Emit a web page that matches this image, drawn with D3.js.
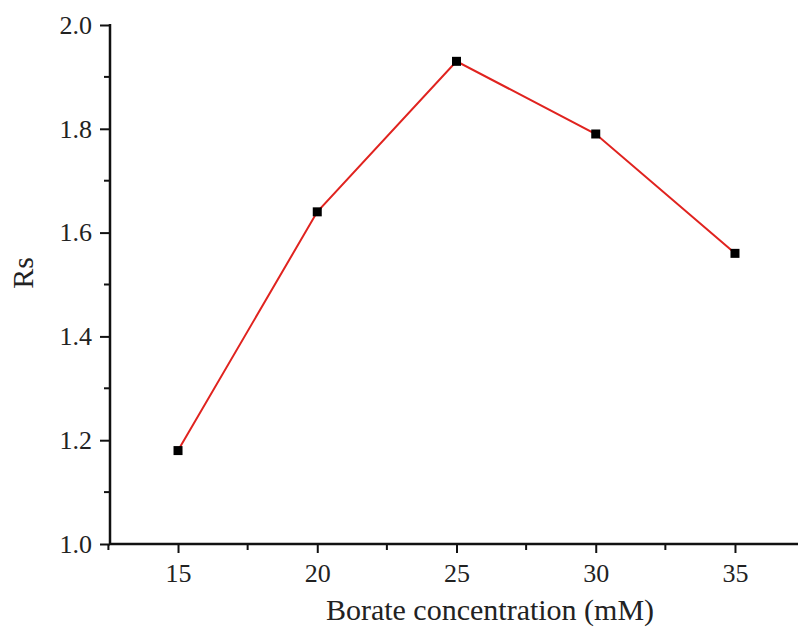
<!DOCTYPE html>
<html>
<head>
<meta charset="utf-8">
<script src="https://cdn.jsdelivr.net/npm/d3@7"></script>
<style>
  html, body { margin: 0; padding: 0; background: #fff; }
  svg { display: block; }
  text { font-family: "Liberation Serif", "Times New Roman", serif; fill: #222; }
</style>
</head>
<body>
<svg id="chart" width="798" height="627"></svg>
<script>
// Borate concentration (mM) vs. resolution Rs
const concentrations = [15, 20, 25, 30, 35];
const rsValues = [1.18, 1.64, 1.93, 1.79, 1.56];
const xTickValues = [15, 20, 25, 30, 35];
const yTickValues = [1.0, 1.2, 1.4, 1.6, 1.8, 2.0];

const svg = d3.select("#chart");
const plotLeft = 110, plotTop = 25, plotBottom = 544;

const x = d3.scaleLinear().domain([12.5, 37.5]).range([108.4, 804.6]);
const y = d3.scaleLinear().domain([1.0, 2.0]).range([plotBottom, plotTop]);

// minor ticks
const xMinor = d3.range(12.5, 37.6, 2.5).filter(v => !xTickValues.includes(v));
const yMinor = d3.range(1.1, 2.0, 0.2);

const axisColor = "#111";

// x axis
const gx = svg.append("g").attr("transform", `translate(0,${plotBottom})`);
gx.call(d3.axisBottom(x).tickValues(xTickValues).tickSize(9).tickFormat(d3.format("d")))
  .call(g => g.select(".domain").remove());
gx.selectAll(".tick line").attr("stroke", axisColor).attr("stroke-width", 2);
gx.selectAll(".tick text").attr("font-size", 26).attr("y", 38).attr("dy", 0);
gx.selectAll(".minor").data(xMinor).enter().append("line")
  .attr("x1", d => x(d)).attr("x2", d => x(d)).attr("y1", 0).attr("y2", 6)
  .attr("stroke", axisColor).attr("stroke-width", 2);
gx.append("line").attr("x1", plotLeft - 1).attr("x2", 798).attr("y1", 0).attr("y2", 0)
  .attr("stroke", axisColor).attr("stroke-width", 2.5);

// y axis
const gy = svg.append("g").attr("transform", `translate(${plotLeft},0)`);
gy.call(d3.axisLeft(y).tickValues(yTickValues).tickSize(10).tickPadding(8).tickFormat(d3.format(".1f")))
  .call(g => g.select(".domain").remove());
gy.selectAll(".tick line").attr("stroke", axisColor).attr("stroke-width", 2);
gy.selectAll(".tick text").attr("font-size", 26);
gy.selectAll(".minor").data(yMinor).enter().append("line")
  .attr("x1", 0).attr("x2", -6).attr("y1", d => y(d)).attr("y2", d => y(d))
  .attr("stroke", axisColor).attr("stroke-width", 2);
gy.append("line").attr("x1", 0).attr("x2", 0).attr("y1", plotTop - 1).attr("y2", plotBottom + 1)
  .attr("stroke", axisColor).attr("stroke-width", 2.5);

// axis titles
svg.append("text").attr("x", 490).attr("y", 620).attr("text-anchor", "middle")
  .attr("font-size", 30).text("Borate concentration (mM)");
svg.append("text").attr("transform", "translate(33,273) rotate(-90)").attr("text-anchor", "middle")
  .attr("font-size", 30).text("Rs");

// data line
const data = concentrations.map((c, i) => ({ c, v: rsValues[i] }));
svg.append("path").datum(data)
  .attr("fill", "none").attr("stroke", "#e0231f").attr("stroke-width", 2)
  .attr("d", d3.line().x(d => x(d.c)).y(d => y(d.v)));

svg.selectAll(".pt").data(data).enter().append("rect")
  .attr("x", d => x(d.c) - 4.5).attr("y", d => y(d.v) - 4.5)
  .attr("width", 9).attr("height", 9).attr("fill", "#000");
</script>
</body>
</html>
